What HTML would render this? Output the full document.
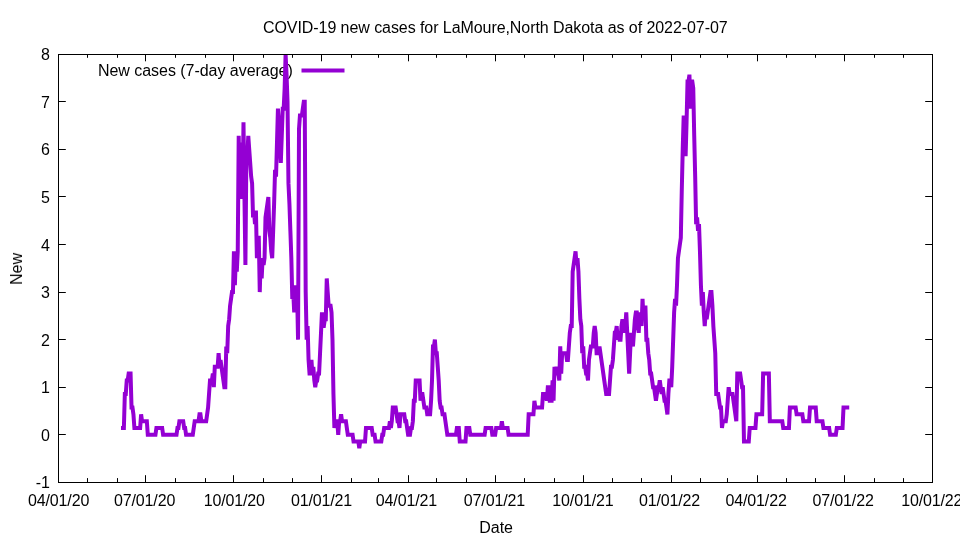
<!DOCTYPE html>
<html><head><meta charset="utf-8"><style>html,body{margin:0;padding:0;background:#fff}svg{display:block}text{opacity:0.999;font-family:"Liberation Sans",sans-serif;font-size:16px;fill:#000}</style></head><body>
<svg width="960" height="540" viewBox="0 0 960 540">
<rect width="960" height="540" fill="#fff"/>
<defs><clipPath id="c"><rect x="58.5" y="54.5" width="874.0" height="428.0"/></clipPath></defs>
<path d="M58.5,482.5v-7.3M58.5,54.5v6.8M87.5,482.5v-4.4M87.5,54.5v3.3M117.5,482.5v-4.4M117.5,54.5v3.3M145.5,482.5v-7.3M145.5,54.5v6.8M175.5,482.5v-4.4M175.5,54.5v3.3M205.5,482.5v-4.4M205.5,54.5v3.3M233.5,482.5v-7.3M233.5,54.5v6.8M263.5,482.5v-4.4M263.5,54.5v3.3M292.5,482.5v-4.4M292.5,54.5v3.3M321.5,482.5v-7.3M321.5,54.5v6.8M351.5,482.5v-4.4M351.5,54.5v3.3M378.5,482.5v-4.4M378.5,54.5v3.3M408.5,482.5v-7.3M408.5,54.5v6.8M436.5,482.5v-4.4M436.5,54.5v3.3M466.5,482.5v-4.4M466.5,54.5v3.3M495.5,482.5v-7.3M495.5,54.5v6.8M524.5,482.5v-4.4M524.5,54.5v3.3M554.5,482.5v-4.4M554.5,54.5v3.3M583.5,482.5v-7.3M583.5,54.5v6.8M612.5,482.5v-4.4M612.5,54.5v3.3M641.5,482.5v-4.4M641.5,54.5v3.3M671.5,482.5v-7.3M671.5,54.5v6.8M700.5,482.5v-4.4M700.5,54.5v3.3M727.5,482.5v-4.4M727.5,54.5v3.3M757.5,482.5v-7.3M757.5,54.5v6.8M786.5,482.5v-4.4M786.5,54.5v3.3M815.5,482.5v-4.4M815.5,54.5v3.3M844.5,482.5v-7.3M844.5,54.5v6.8M874.5,482.5v-4.4M874.5,54.5v3.3M903.5,482.5v-4.4M903.5,54.5v3.3M932.5,482.5v-7.3M932.5,54.5v6.8M58.5,482.5h7.3M932.5,482.5h-7.3M58.5,434.5h7.3M932.5,434.5h-7.3M58.5,387.5h7.3M932.5,387.5h-7.3M58.5,339.5h7.3M932.5,339.5h-7.3M58.5,292.5h7.3M932.5,292.5h-7.3M58.5,244.5h7.3M932.5,244.5h-7.3M58.5,196.5h7.3M932.5,196.5h-7.3M58.5,149.5h7.3M932.5,149.5h-7.3M58.5,101.5h7.3M932.5,101.5h-7.3M58.5,54.5h7.3M932.5,54.5h-7.3" stroke="#000" stroke-width="1" fill="none"/>
<g style="opacity:0.999;will-change:transform">
<text x="58.60" y="506" text-anchor="middle" style="letter-spacing:-0.15px">04/01/20</text>
<text x="144.60" y="506" text-anchor="middle" style="letter-spacing:-0.15px">07/01/20</text>
<text x="234.30" y="506" text-anchor="middle" style="letter-spacing:-0.15px">10/01/20</text>
<text x="321.50" y="506" text-anchor="middle" style="letter-spacing:-0.15px">01/01/21</text>
<text x="406.40" y="506" text-anchor="middle" style="letter-spacing:-0.15px">04/01/21</text>
<text x="494.40" y="506" text-anchor="middle" style="letter-spacing:-0.15px">07/01/21</text>
<text x="582.90" y="506" text-anchor="middle" style="letter-spacing:-0.15px">10/01/21</text>
<text x="669.50" y="506" text-anchor="middle" style="letter-spacing:-0.15px">01/01/22</text>
<text x="756.10" y="506" text-anchor="middle" style="letter-spacing:-0.15px">04/01/22</text>
<text x="843.10" y="506" text-anchor="middle" style="letter-spacing:-0.15px">07/01/22</text>
<text x="931.70" y="506" text-anchor="middle" style="letter-spacing:-0.15px">10/01/22</text>
<text x="49.9" y="487.70" text-anchor="end">-1</text>
<text x="49.9" y="440.70" text-anchor="end">0</text>
<text x="49.9" y="392.70" text-anchor="end">1</text>
<text x="49.9" y="345.70" text-anchor="end">2</text>
<text x="49.9" y="297.70" text-anchor="end">3</text>
<text x="49.9" y="250.70" text-anchor="end">4</text>
<text x="49.9" y="202.70" text-anchor="end">5</text>
<text x="49.9" y="154.70" text-anchor="end">6</text>
<text x="49.9" y="107.70" text-anchor="end">7</text>
<text x="49.9" y="59.70" text-anchor="end">8</text>
<text x="495.3" y="32.7" text-anchor="middle" style="letter-spacing:-0.068px">COVID-19 new cases for LaMoure,North Dakota as of 2022-07-07</text>
<text x="496.1" y="533" text-anchor="middle">Date</text>
<text transform="translate(22,268.9) rotate(-90)" text-anchor="middle">New</text>
<text x="292.7" y="76" text-anchor="end" style="letter-spacing:-0.035px">New cases (7-day average)</text>
</g>
<path d="M301.5,70.5H344.5" stroke="#9400d3" stroke-width="4" fill="none"/>
<path clip-path="url(#c)" d="M121.00,427.95L123.87,427.95L124.83,393.98L125.79,393.98L126.74,380.40L127.70,380.40L128.66,373.60L130.57,373.60L131.53,407.57L132.49,407.57L133.44,414.36L134.40,427.95L140.14,427.95L141.10,414.36L142.06,421.16L146.84,421.16L147.80,434.74L155.45,434.74L156.41,427.95L162.15,427.95L163.11,434.74L176.51,434.74L177.46,427.95L178.42,427.95L179.38,421.16L183.20,421.16L184.16,427.95L185.12,427.95L186.08,434.74L192.77,434.74L193.73,427.95L194.69,421.16L198.52,421.16L199.47,414.36L200.43,414.36L201.39,421.16L206.17,421.16L207.13,414.36L208.08,407.57L209.04,393.98L210.00,380.40L211.91,380.40L212.87,373.60L213.83,387.19L214.78,366.81L217.65,366.81L218.61,353.22L219.57,366.81L220.53,360.01L221.48,366.81L222.44,373.60L223.40,380.40L224.35,387.19L225.31,387.19L226.27,346.43L227.22,353.22L228.18,326.05L229.14,319.25L230.09,305.67L231.05,298.87L232.01,292.08L232.97,292.08L233.92,251.32L234.88,285.28L235.84,258.11L236.79,271.70L237.75,251.32L238.71,135.82L239.66,196.97L240.62,142.62L241.58,196.97L242.54,196.97L243.49,122.24L244.45,196.97L245.41,264.90L246.36,156.20L247.32,156.20L248.28,135.82L249.23,149.41L250.19,163.00L251.15,176.59L252.10,183.38L253.06,217.35L254.02,210.55L254.98,224.14L255.93,210.55L256.89,258.11L257.85,237.73L258.80,237.73L259.76,292.08L260.72,258.11L261.67,278.49L262.63,258.11L263.59,264.90L264.55,258.11L265.50,217.35L266.46,210.55L267.42,203.76L268.37,196.97L269.33,230.93L270.29,237.73L271.24,251.32L272.20,258.11L273.16,230.93L274.11,203.76L275.07,169.79L276.03,176.59L276.99,142.62L277.94,108.65L278.90,122.24L279.86,142.62L280.81,163.00L281.77,135.82L282.73,108.65L283.68,108.65L284.64,88.27L285.60,54.30L286.56,74.68L287.51,101.86L288.47,183.38L289.43,203.76L290.38,230.93L291.34,258.11L292.30,298.87L293.25,292.08L294.21,312.46L295.17,285.28L296.12,292.08L297.08,292.08L298.04,339.63L299.00,129.03L299.95,115.44L301.87,115.44L302.82,108.65L303.78,101.86L304.74,101.86L305.69,292.08L306.65,339.63L307.61,326.05L308.57,360.01L309.52,373.60L310.48,373.60L311.44,360.01L312.39,373.60L313.35,366.81L314.31,380.40L315.26,387.19L316.22,380.40L317.18,380.40L318.13,373.60L319.09,373.60L320.05,353.22L321.01,332.84L321.96,312.46L322.92,326.05L323.88,326.05L324.83,319.25L325.79,319.25L326.75,278.49L327.70,292.08L328.66,305.67L330.58,305.67L331.53,312.46L332.49,339.63L333.45,393.98L334.40,427.95L335.36,421.16L337.27,421.16L338.23,434.74L339.19,421.16L340.14,421.16L341.10,414.36L342.06,421.16L345.89,421.16L346.84,427.95L347.80,434.74L352.59,434.74L353.54,441.54L358.33,441.54L359.28,448.33L360.24,441.54L365.03,441.54L365.98,427.95L371.72,427.95L372.68,434.74L374.60,434.74L375.55,441.54L381.29,441.54L382.25,434.74L383.21,434.74L384.16,427.95L388.95,427.95L389.91,421.16L390.86,427.95L391.82,421.16L392.78,407.57L395.65,407.57L396.61,414.36L397.56,421.16L398.52,421.16L399.48,427.95L400.43,414.36L404.26,414.36L405.22,421.16L406.17,421.16L407.13,427.95L408.09,434.74L410.00,434.74L410.96,427.95L411.92,427.95L412.87,421.16L413.83,400.78L414.79,400.78L415.74,380.40L419.57,380.40L420.53,400.78L421.49,393.98L422.44,393.98L423.40,400.78L424.36,407.57L426.27,407.57L427.23,414.36L430.10,414.36L431.06,400.78L432.01,380.40L432.97,346.43L433.93,346.43L434.88,339.63L435.84,353.22L436.80,353.22L437.75,366.81L438.71,380.40L439.67,400.78L440.63,407.57L441.58,407.57L442.54,414.36L444.45,414.36L445.41,421.16L446.37,427.95L447.32,434.74L455.94,434.74L456.89,427.95L458.81,427.95L459.76,441.54L465.51,441.54L466.46,427.95L469.33,427.95L470.29,434.74L484.65,434.74L485.60,427.95L491.34,427.95L492.30,434.74L495.17,434.74L496.13,427.95L500.91,427.95L501.87,421.16L502.83,427.95L507.61,427.95L508.57,434.74L527.71,434.74L528.66,414.36L533.45,414.36L534.41,400.78L535.36,407.57L542.06,407.57L543.02,393.98L545.89,393.98L546.85,400.78L547.80,387.19L548.76,387.19L549.72,400.78L551.63,400.78L552.59,380.40L553.55,400.78L554.50,366.81L555.46,373.60L556.42,366.81L557.37,373.60L558.33,373.60L559.29,380.40L560.24,346.43L561.20,373.60L562.16,353.22L565.99,353.22L566.94,360.01L567.90,360.01L568.86,346.43L569.81,332.84L570.77,326.05L571.73,326.05L572.68,271.70L573.64,264.90L574.60,258.11L575.56,251.32L576.51,264.90L577.47,258.11L578.43,271.70L579.38,298.87L580.34,319.25L581.30,326.05L582.25,353.22L583.21,346.43L584.17,366.81L585.13,366.81L586.08,373.60L587.04,373.60L588.00,380.40L588.95,360.01L589.91,353.22L590.87,346.43L592.78,346.43L593.74,332.84L594.69,326.05L595.65,332.84L596.61,353.22L598.52,353.22L599.48,346.43L600.44,353.22L601.39,360.01L602.35,366.81L603.31,373.60L604.26,380.40L605.22,387.19L606.18,393.98L609.05,393.98L610.01,380.40L610.96,366.81L611.92,366.81L612.88,360.01L613.83,346.43L614.79,332.84L615.75,332.84L616.70,326.05L617.66,339.63L618.62,332.84L619.58,339.63L620.53,339.63L621.49,326.05L622.45,319.25L623.40,326.05L624.36,332.84L625.32,326.05L626.27,312.46L627.23,332.84L628.19,353.22L629.15,373.60L630.10,353.22L631.06,332.84L632.02,339.63L632.97,346.43L633.93,332.84L634.89,319.25L635.84,312.46L636.80,312.46L637.76,326.05L638.71,332.84L639.67,312.46L640.63,319.25L641.59,326.05L642.54,298.87L643.50,319.25L644.46,312.46L645.41,305.67L646.37,339.63L647.33,339.63L648.28,353.22L649.24,360.01L650.20,373.60L651.16,373.60L652.11,380.40L653.07,387.19L654.03,387.19L654.98,393.98L655.94,400.78L656.90,393.98L657.85,387.19L658.81,387.19L659.77,380.40L660.72,387.19L661.68,393.98L662.64,387.19L663.60,393.98L664.55,400.78L665.51,400.78L666.47,407.57L667.42,414.36L668.38,393.98L669.34,380.40L670.29,380.40L671.25,387.19L672.21,366.81L673.17,339.63L674.12,312.46L675.08,298.87L676.04,305.67L676.99,285.28L677.95,258.11L678.91,251.32L679.86,244.52L680.82,237.73L681.78,190.17L682.73,149.41L683.69,115.44L684.65,135.82L685.61,156.20L686.56,122.24L687.52,81.47L688.48,81.47L689.43,74.68L690.39,108.65L691.35,81.47L692.30,81.47L693.26,88.27L694.22,135.82L695.18,176.59L696.13,224.14L697.09,217.35L698.05,230.93L699.00,224.14L699.96,251.32L700.92,285.28L701.87,305.67L702.83,292.08L703.79,312.46L704.74,326.05L705.70,312.46L706.66,319.25L707.62,312.46L708.57,305.67L709.53,298.87L710.49,292.08L711.44,292.08L712.40,305.67L713.36,326.05L714.31,339.63L715.27,353.22L716.23,393.98L718.14,393.98L719.10,400.78L720.06,407.57L721.01,407.57L721.97,427.95L722.93,421.16L725.80,421.16L726.75,414.36L727.71,400.78L728.67,387.19L729.63,393.98L732.50,393.98L733.45,400.78L734.41,407.57L735.37,414.36L736.32,421.16L737.28,373.60L740.15,373.60L741.11,380.40L742.07,387.19L743.02,387.19L743.98,441.54L748.76,441.54L749.72,427.95L755.46,427.95L756.42,414.36L762.16,414.36L763.12,373.60L768.86,373.60L769.82,421.16L782.26,421.16L783.22,427.95L788.96,427.95L789.91,407.57L795.66,407.57L796.61,414.36L802.35,414.36L803.31,421.16L809.05,421.16L810.01,407.57L815.75,407.57L816.71,421.16L822.45,421.16L823.41,427.95L829.15,427.95L830.11,434.74L835.85,434.74L836.80,427.95L842.55,427.95L843.50,407.57L849.24,407.57" stroke="#9400d3" stroke-width="4" fill="none" stroke-linejoin="miter" stroke-miterlimit="3.8" stroke-linecap="butt"/>
<rect x="58.5" y="54.5" width="874.0" height="428.0" fill="none" stroke="#000" stroke-width="1"/>
</svg></body></html>
